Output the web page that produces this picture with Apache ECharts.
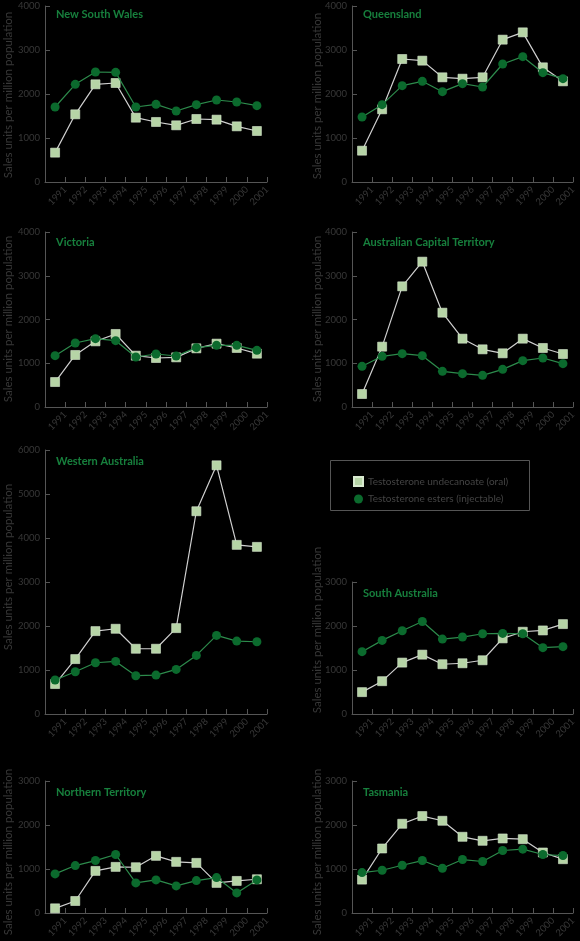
<!DOCTYPE html>
<html>
<head>
<meta charset="utf-8">
<script src="https://cdn.jsdelivr.net/npm/echarts@6/dist/echarts.min.js"></script>
<style>
html,body{margin:0;padding:0;background:#000;}
#chart{width:580px;height:941px;}
</style>
</head>
<body>
<div id="chart"></div>
<script>
const years = ['1991','1992','1993','1994','1995','1996','1997','1998','1999','2000','2001'];
const seriesNames = ['Testosterone undecanoate (oral)', 'Testosterone esters (injectable)'];
const yAxisTitle = 'Sales units per million population';

const nswOral = [667, 1538, 2220, 2250, 1462, 1364, 1288, 1432, 1417, 1265, 1159];
const nswInj  = [1705, 2220, 2500, 2492, 1705, 1765, 1614, 1758, 1864, 1818, 1735];
const qldOral = [712, 1652, 2795, 2758, 2379, 2348, 2379, 3235, 3401, 2606, 2288];
const qldInj  = [1477, 1758, 2189, 2288, 2053, 2235, 2159, 2682, 2848, 2485, 2348];
const vicOral = [571, 1189, 1501, 1669, 1173, 1120, 1135, 1341, 1448, 1349, 1219];
const vicInj  = [1173, 1463, 1562, 1516, 1143, 1211, 1166, 1356, 1410, 1410, 1295];
const actOral = [297, 1379, 2758, 3322, 2156, 1562, 1318, 1227, 1562, 1349, 1211];
const actInj  = [930, 1158, 1219, 1173, 815, 762, 724, 861, 1059, 1120, 990];
const waOral  = [681, 1248, 1884, 1937, 1483, 1483, 1952, 4608, 5652, 3844, 3798];
const waInj   = [772, 961, 1165, 1195, 870, 885, 1014, 1332, 1786, 1657, 1642];
const saOral  = [497, 746, 1168, 1349, 1131, 1153, 1221, 1719, 1869, 1899, 2043];
const saInj   = [1417, 1673, 1892, 2103, 1703, 1749, 1824, 1832, 1824, 1508, 1530];
const ntOral  = [106, 273, 957, 1048, 1040, 1299, 1162, 1139, 684, 729, 767];
const ntInj   = [889, 1078, 1192, 1329, 684, 752, 615, 737, 805, 456, 752];
const tasOral = [759, 1466, 2028, 2203, 2096, 1732, 1641, 1694, 1678, 1375, 1223];
const tasInj  = [919, 972, 1086, 1192, 1018, 1215, 1170, 1420, 1451, 1329, 1306];

const panels = [
  {title:'New South Wales', oral:nswOral, inj:nswInj, max:4000, grid:[45,6,222,176], nameX:8, nameY:95},
  {title:'Queensland', oral:qldOral, inj:qldInj, max:4000, grid:[352,6,221,176], nameX:317, nameY:96},
  {title:'Victoria', oral:vicOral, inj:vicInj, max:4000, grid:[45,232,222,175], nameX:8, nameY:319},
  {title:'Australian Capital Territory', oral:actOral, inj:actInj, max:4000, grid:[352,232,221,175], nameX:317, nameY:319},
  {title:'Western Australia', oral:waOral, inj:waInj, max:6000, grid:[45,450,222,264], nameX:8, nameY:567},
  {title:'South Australia', oral:saOral, inj:saInj, max:3000, grid:[352,582,221,132], nameX:317, nameY:630},
  {title:'Northern Territory', oral:ntOral, inj:ntInj, max:3000, grid:[45,781,222,132], nameX:8, nameY:852},
  {title:'Tasmania', oral:tasOral, inj:tasInj, max:3000, grid:[352,781,221,132], nameX:317, nameY:852}
];

const FONT = 'Lato, "Open Sans", sans-serif';
const axisColor = '#555';
const labelColor = '#383838';

const grids = [], xAxes = [], yAxes = [], series = [], graphics = [];
panels.forEach((p, i) => {
  const [l, t, w, h] = p.grid;
  grids.push({left:l, top:t, width:w, height:h, containLabel:false});
  xAxes.push({
    type:'value', gridIndex:i, min:0, max:years.length, interval:1,
    axisLine:{show:true, lineStyle:{color:axisColor, width:1}},
    axisTick:{show:true, inside:true, length:5, lineStyle:{color:axisColor}},
    splitLine:{show:false},
    axisLabel:{rotate:45, margin:6, fontSize:9.5, fontFamily:FONT, color:labelColor,
      formatter: v => (v >= 1 && v <= years.length) ? years[v-1] : ''}
  });
  yAxes.push({
    type:'value', gridIndex:i, min:0, max:p.max, interval:1000,
    axisLine:{show:true, lineStyle:{color:axisColor, width:1}},
    axisTick:{show:true, inside:true, length:5, lineStyle:{color:axisColor}},
    splitLine:{show:false},
    axisLabel:{margin:5, fontSize:9.5, fontFamily:FONT, color:labelColor,
      formatter: v => String(v)}
  });
  series.push({
    name:seriesNames[0], type:'line', xAxisIndex:i, yAxisIndex:i,
    data:p.oral.map((v, k) => [k + 0.5, v]),
    symbol:'rect', symbolSize:9,
    itemStyle:{color:'#b6d4a6', borderColor:'#d9ead0', borderWidth:0.6},
    lineStyle:{color:'#cfcfcf', width:1.2},
    z:2
  });
  series.push({
    name:seriesNames[1], type:'line', xAxisIndex:i, yAxisIndex:i,
    data:p.inj.map((v, k) => [k + 0.5, v]),
    symbol:'circle', symbolSize:9,
    itemStyle:{color:'#0b6a2d', borderWidth:0},
    lineStyle:{color:'#2d8b4c', width:1.2},
    z:3
  });
  graphics.push({
    type:'text', x:l + 11, y:t + (i < 2 ? 8 : (i < 4 ? 10 : 11.5)),
    style:{text:p.title, fill:'#17803d', font:'bold 11px ' + FONT, verticalAlign:'middle', align:'left'}
  });
  graphics.push({
    type:'text', x:p.nameX, y:p.nameY, rotation:Math.PI/2,
    style:{text:yAxisTitle, fill:'#383838', font:'11.5px ' + FONT, verticalAlign:'middle', align:'center'}
  });
});

graphics.push({
  type:'rect', shape:{x:330.5, y:460.5, width:199, height:50},
  style:{fill:'none', stroke:'#555', lineWidth:1}
});

const chart = echarts.init(document.getElementById('chart'), null, {renderer:'canvas'});
chart.setOption({
  backgroundColor:'#000',
  animation:false,
  grid:grids, xAxis:xAxes, yAxis:yAxes, series:series,
  legend:{
    left:348, top:471, orient:'vertical', itemWidth:9, itemHeight:9, itemGap:7,
    textStyle:{color:'#444', fontSize:10, fontFamily:FONT},
    data:[{name:seriesNames[0], icon:'rect'}, {name:seriesNames[1], icon:'circle'}]
  },
  graphic:graphics
});
</script>
</body>
</html>
